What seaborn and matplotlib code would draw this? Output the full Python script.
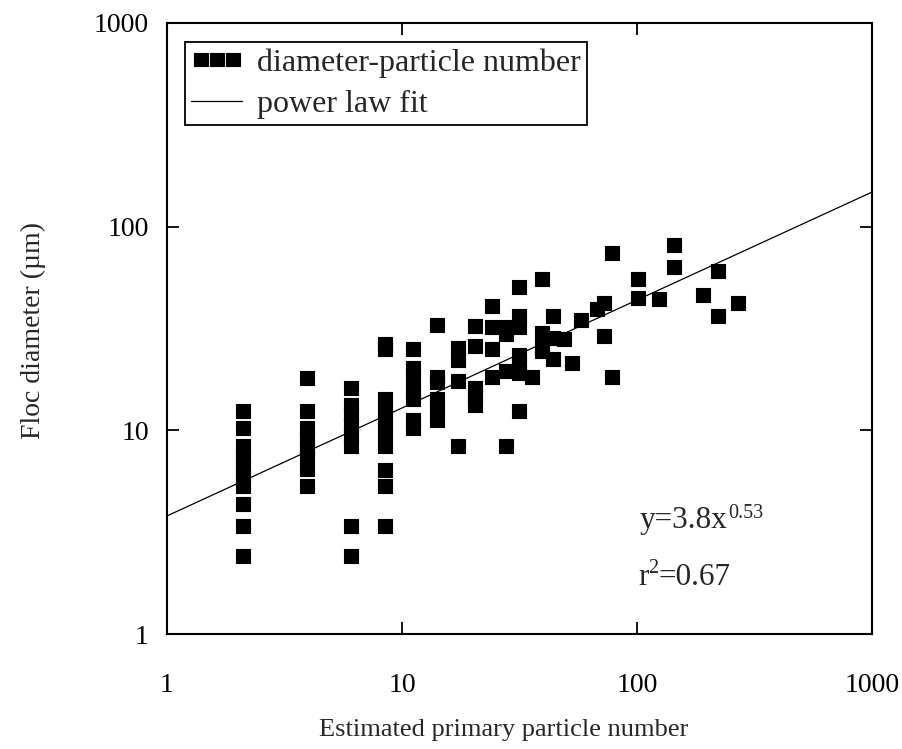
import numpy as np
import pandas as pd
import matplotlib
matplotlib.use("Agg")
import matplotlib.pyplot as plt
from matplotlib.ticker import NullLocator, FixedLocator, FixedFormatter
from matplotlib.transforms import offset_copy
import seaborn as sns

# Estimated primary particle number (one entry per column of points)
particle_number = [2.1, 3.95, 6.05, 8.5, 11.1, 14.1, 17.3, 20.4, 24.1, 27.7,
                   31.5, 35.6, 39.6, 43.7, 48.9, 52.9, 57.6, 67.7, 72.6, 78.5,
                   100.5, 124, 143, 191.5, 222, 268]

# Floc diameters (µm) measured at each particle number
floc_diameter = [
    [12.4, 10.3, 8.4, 7.45, 6.65, 5.95, 5.35, 4.35, 3.39, 2.42],
    [18.1, 12.4, 10.3, 9.2, 8.15, 7.3, 6.45, 5.3],
    [16.2, 13.3, 11.85, 10.6, 9.4, 8.4, 3.39, 2.42],
    [26.5, 25.0, 14.2, 12.5, 10.9, 9.6, 8.4, 6.37, 5.33, 3.39],
    [25.0, 20.3, 17.8, 15.6, 14.2, 11.3, 10.3],
    [33.0, 18.2, 17.3, 14.2, 12.6, 11.2],
    [25.3, 22.2, 17.4, 8.4],
    [32.7, 26.0, 16.2, 14.7, 13.3],
    [41.0, 32.2, 25.0, 18.2],
    [32.3, 29.8, 19.6, 8.4],
    [50.4, 36.5, 32.0, 23.4, 21.2, 19.2, 12.4],
    [18.2],
    [55.2, 30.0, 25.5, 24.4],
    [36.6, 28.5, 22.3],
    [28.1],
    [21.3],
    [35.0],
    [39.3],
    [42.0, 29.2],
    [74.4, 18.2],
    [55.4, 44.7],
    [44.2],
    [81.6, 63.4],
    [46.2],
    [60.7, 36.6],
    [42.0],
]

# Power law fit  y = a * x^b
fit_coef = 3.8
fit_exp = 0.53
r_squared = 0.67

axis_ticks = [1, 10, 100, 1000]
axis_tick_labels = ["1", "10", "100", "1000"]

rows = [(n, d) for n, ds in zip(particle_number, floc_diameter) for d in ds]
points = pd.DataFrame(rows, columns=["particles", "diameter"])
fit_x = np.logspace(0, 3, 300)
fit = pd.DataFrame({"particles": fit_x, "diameter": fit_coef * fit_x ** fit_exp})

sns.set_style("ticks")
plt.rcParams["font.family"] = ["Liberation Serif", "DejaVu Serif"]

W, H = 902, 749
fig = plt.figure(figsize=(W / 100, H / 100), dpi=100)
ax = fig.add_axes([167 / W, 1 - 634 / H, 705 / W, 611 / H])
ax.set_xscale("log")
ax.set_yscale("log")

sns.scatterplot(data=points, x="particles", y="diameter", marker="s", s=95,
                color="black", edgecolor="black", linewidth=0.8, ax=ax,
                label="diameter-particle number", zorder=3)
for coll in ax.collections:
    coll.set_joinstyle("round")
sns.lineplot(data=fit, x="particles", y="diameter", color="black", linewidth=0.9,
             ax=ax, label="power law fit", zorder=4)

ax.set_xlim(1, 1000)
ax.set_ylim(1, 1000)
for axis in (ax.xaxis, ax.yaxis):
    axis.set_major_locator(FixedLocator(axis_ticks))
    axis.set_major_formatter(FixedFormatter(axis_tick_labels))
    axis.set_minor_locator(NullLocator())

for sp in ax.spines.values():
    sp.set_linewidth(1.5)
    sp.set_color("black")
ax.tick_params(which="major", direction="in", length=8.5, width=1.3,
               top=True, right=True, labelsize=20, colors="black")
ax.tick_params(axis="x", pad=28)
ax.tick_params(axis="y", pad=13)

ax.set_xlabel("Estimated primary particle number", fontsize=19)
ax.set_ylabel("Floc diameter (µm)", fontsize=20)
ax.xaxis.set_label_coords(0.477, -0.1386)
ax.yaxis.set_label_coords(-0.172, 0.496)

handles, labels = ax.get_legend_handles_labels()
leg = ax.legend(handles, labels, loc="upper left", bbox_to_anchor=(0.0255, 0.969),
                borderaxespad=0, scatterpoints=3, scatteryoffsets=[0.5],
                frameon=True, fancybox=False, edgecolor="black", framealpha=1,
                fontsize=23, handlelength=1.6, handletextpad=0.45,
                borderpad=0.2, labelspacing=0.37)
leg.get_frame().set_linewidth(1.3)


def text_with_superscript(x, y, base, sup, tail, size, sup_size, rise):
    """Draw base + raised superscript + tail, left-aligned at (x, y) in axes coords."""
    renderer = fig.canvas.get_renderer()
    t1 = ax.text(x, y, base, transform=ax.transAxes, fontsize=size,
                 ha="left", va="baseline")
    w1 = t1.get_window_extent(renderer).width
    tr = offset_copy(ax.transAxes, fig=fig, x=w1 * 72 / fig.dpi, y=rise, units="points")
    t2 = ax.text(x, y, sup, transform=tr, fontsize=sup_size, ha="left", va="baseline")
    if tail:
        w2 = t2.get_window_extent(renderer).width
        tr3 = offset_copy(ax.transAxes, fig=fig, x=(w1 + w2) * 72 / fig.dpi, y=0,
                          units="points")
        ax.text(x, y, tail, transform=tr3, fontsize=size, ha="left", va="baseline")


text_with_superscript(0.671, 0.1735, f"y={fit_coef}x", f"{fit_exp}", "", 22.5, 14.5, 7.2)
text_with_superscript(0.668, 0.080, "r", "2", f"={r_squared}", 22.5, 14.5, 8.6)

fig.savefig("out.png", dpi=100, facecolor="white")
